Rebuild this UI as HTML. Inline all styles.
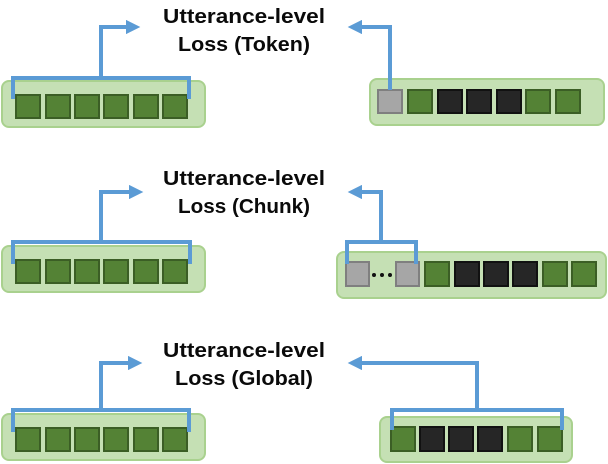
<!DOCTYPE html>
<html><head><meta charset="utf-8"><style>html,body{margin:0;padding:0;background:#fff}svg{display:block}</style></head>
<body>
<svg width="608" height="464" viewBox="0 0 608 464" xmlns="http://www.w3.org/2000/svg">
<defs>
<marker id="ah" viewBox="0 0 10 10" refX="7" refY="5" markerWidth="3.6" markerHeight="3.6" orient="auto-start-reverse"><path d="M0,0 L10,5 L0,10 z" fill="#5b9bd5"/></marker>
</defs>
<g font-family="Liberation Sans, sans-serif" font-size="20" font-weight="bold" fill="#0a0a0a" text-anchor="middle">
<text x="244" y="23" textLength="162" lengthAdjust="spacingAndGlyphs">Utterance-level</text>
<text x="244" y="51" textLength="132" lengthAdjust="spacingAndGlyphs">Loss (Token)</text>
<text x="244" y="185" textLength="162" lengthAdjust="spacingAndGlyphs">Utterance-level</text>
<text x="244" y="213" textLength="132" lengthAdjust="spacingAndGlyphs">Loss (Chunk)</text>
<text x="244" y="357" textLength="162" lengthAdjust="spacingAndGlyphs">Utterance-level</text>
<text x="244" y="385" textLength="138" lengthAdjust="spacingAndGlyphs">Loss (Global)</text>
</g>
<g fill="#c5e0b4" stroke="#a9d18e" stroke-width="2">
<rect x="2" y="81" width="203" height="46" rx="7"/>
<rect x="370" y="79" width="234" height="46" rx="7"/>
<rect x="2" y="246" width="203" height="46" rx="7"/>
<rect x="337" y="252" width="269" height="46" rx="7"/>
<rect x="2" y="414" width="203" height="46" rx="7"/>
<rect x="380" y="417" width="192" height="45" rx="7"/>
</g>
<g stroke-width="2">
<g fill="#548235" stroke="#3b5e25">
<rect x="16" y="95" width="24" height="23"/><rect x="46" y="95" width="24" height="23"/><rect x="75" y="95" width="24" height="23"/><rect x="104" y="95" width="24" height="23"/><rect x="134" y="95" width="24" height="23"/><rect x="163" y="95" width="24" height="23"/>
<rect x="16" y="260" width="24" height="23"/><rect x="46" y="260" width="24" height="23"/><rect x="75" y="260" width="24" height="23"/><rect x="104" y="260" width="24" height="23"/><rect x="134" y="260" width="24" height="23"/><rect x="163" y="260" width="24" height="23"/>
<rect x="16" y="428" width="24" height="23"/><rect x="46" y="428" width="24" height="23"/><rect x="75" y="428" width="24" height="23"/><rect x="104" y="428" width="24" height="23"/><rect x="134" y="428" width="24" height="23"/><rect x="163" y="428" width="24" height="23"/>
<rect x="408" y="90" width="24" height="23"/><rect x="526" y="90" width="24" height="23"/><rect x="556" y="90" width="24" height="23"/>
<rect x="425" y="262" width="24" height="24"/><rect x="543" y="262" width="24" height="24"/><rect x="572" y="262" width="24" height="24"/>
<rect x="391" y="427" width="24" height="24"/><rect x="508" y="427" width="24" height="24"/><rect x="538" y="427" width="24" height="24"/>
</g>
<g fill="#262626" stroke="#111">
<rect x="438" y="90" width="24" height="23"/><rect x="467" y="90" width="24" height="23"/><rect x="497" y="90" width="24" height="23"/>
<rect x="455" y="262" width="24" height="24"/><rect x="484" y="262" width="24" height="24"/><rect x="513" y="262" width="24" height="24"/>
<rect x="420" y="427" width="24" height="24"/><rect x="449" y="427" width="24" height="24"/><rect x="478" y="427" width="24" height="24"/>
</g>
<g fill="#a6a6a6" stroke="#7f7f7f">
<rect x="378" y="90" width="24" height="23"/>
<rect x="346" y="262" width="23" height="24"/><rect x="396" y="262" width="23" height="24"/>
</g>
</g>
<g fill="#111"><circle cx="374" cy="275" r="2"/><circle cx="382" cy="275" r="2"/><circle cx="390" cy="275" r="2"/></g>
<g fill="none" stroke="#5b9bd5" stroke-width="4">
<path d="M13,99 V78 H189 V99"/><path d="M101,78 V27 H136" marker-end="url(#ah)"/>
<path d="M390,90 V27 H352" marker-end="url(#ah)"/>
<path d="M13,264 V242 H190 V264"/><path d="M101,242 V192 H139" marker-end="url(#ah)"/>
<path d="M347,264 V242 H416 V264"/><path d="M381,242 V192 H352" marker-end="url(#ah)"/>
<path d="M13,432 V410 H189 V432"/><path d="M101,410 V363 H138" marker-end="url(#ah)"/>
<path d="M392,430 V410 H562 V430"/><path d="M477,410 V363 H352" marker-end="url(#ah)"/>
</g>
</svg>
</body></html>
